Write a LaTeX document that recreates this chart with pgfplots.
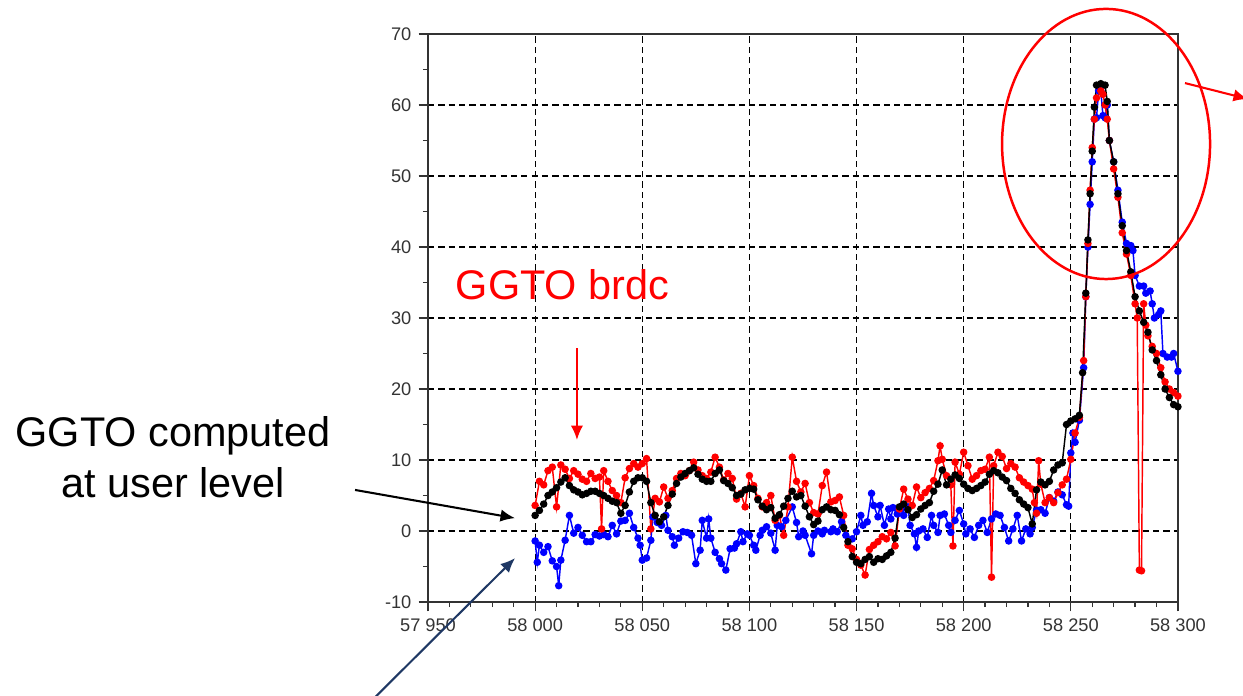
\documentclass[border=0pt]{standalone}
\usepackage{pgfplots}
\pgfplotsset{compat=1.18}
\usetikzlibrary{arrows.meta}
\usepackage{fontspec}
\setmainfont{Liberation Sans}
\definecolor{navy}{RGB}{31,56,100}
\definecolor{myred}{RGB}{255,0,0}
\definecolor{myblue}{RGB}{0,0,255}

\begin{document}
\begin{tikzpicture}
\begin{axis}[
  scale only axis, width=362pt, height=274.2pt,
  xmin=57950, xmax=58300, ymin=-10, ymax=70,
  xtick={57950,58000,...,58300}, minor x tick num=4,
  ytick={-10,0,...,70}, minor y tick num=1,
  xtick pos=left, ytick pos=left,
  tick align=outside, major tick length=4.5pt, minor tick length=2.5pt,
  tick style={black!80, line width=0.6pt},
  axis line style={black!80, line width=0.8pt},
  grid=major,
  major grid style={black, line width=0.6pt, dash pattern=on 3pt off 2pt},
  scaled x ticks=false,
  /pgf/number format/assume math mode=true,
  xticklabel style={font=\fontsize{8.8}{10}\selectfont, text=black!80,
    /pgf/number format/fixed, /pgf/number format/1000 sep={\ }},
  yticklabel style={font=\fontsize{8.8}{10}\selectfont, text=black!80},
  every axis plot/.append style={line width=0.7pt, mark=*, mark size=1.45pt},
]
% blue series
\addplot[color=myblue, mark options={fill=myblue}] table {
58000 -1.4
58001 -4.4
58002 -2.0
58004 -3.0
58006 -2.2
58008 -4.2
58010 -5.0
58011 -7.7
58012 -4.1
58014 -1.3
58016 2.2
58018 -0.3
58020 0.5
58022 -0.6
58024 -1.5
58026 -1.5
58028 -0.5
58030 -0.7
58032 -0.5
58034 -0.8
58036 0.8
58038 -0.4
58040 1.4
58042 1.5
58044 2.5
58046 0.5
58048 -1.0
58049 -2.0
58050 -4.1
58052 -3.8
58054 -1.3
58055 2.0
58057 1.2
58059 0.8
58061 2.2
58062 0.1
58064 -0.8
58065 -2.0
58067 -1.0
58069 -0.1
58071 -0.2
58073 -0.6
58075 -4.6
58077 -2.7
58078 1.5
58080 -1.0
58081 1.7
58082 -1.0
58084 -3.0
58086 -3.9
58087 -4.6
58089 -5.5
58091 -2.5
58093 -2.4
58094 -1.8
58096 -0.1
58097 -1.5
58099 -0.4
58100 -0.6
58102 -2.0
58103 -2.7
58105 -0.6
58106 0.1
58108 0.6
58110 -0.3
58112 -2.7
58113 0.8
58115 0.6
58117 1.5
58120 3.4
58122 1.2
58123 -0.8
58125 0.0
58126 -0.6
58129 -3.2
58130 -0.6
58132 0.0
58134 -0.4
58135 0.1
58138 -0.1
58139 0.3
58141 -0.1
58143 1.3
58145 -0.6
58148 -1.1
58150 -0.1
58152 2.2
58153 0.8
58155 1.3
58157 5.3
58158 3.6
58160 2.0
58161 3.6
58163 0.8
58165 3.1
58166 1.7
58167 3.3
58169 2.4
58171 3.1
58172 2.2
58174 3.4
58175 0.8
58177 -0.4
58178 -2.3
58179 0.0
58181 0.3
58183 -0.9
58185 2.2
58186 0.8
58188 -0.2
58189 2.2
58191 2.4
58193 0.8
58194 -0.2
58196 1.5
58198 2.9
58200 1.0
58201 -0.4
58203 0.3
58205 -0.9
58207 0.8
58209 1.5
58211 -0.2
58213 1.7
58215 2.4
58217 2.2
58219 0.5
58221 -1.4
58223 0.3
58225 2.2
58227 -1.4
58229 0.3
58231 -0.4
58232 0.5
58234 2.9
58236 3.0
58238 2.5
58240 4.7
58242 4.2
58244 5.5
58246 5.1
58248 3.7
58249 3.5
58250 11.0
58251 13.8
58252 12.5
58254 15.6
58256 23.0
58257 33.0
58258 40.0
58259 46.0
58260 52.0
58261 58.0
58262 58.2
58263 62.0
58264 62.0
58265 58.5
58266 58.2
58267 60.0
58268 55.0
58270 52.0
58272 48.0
58274 43.5
58276 40.5
58278 40.2
58279 39.5
58280 36.0
58282 34.5
58284 34.5
58285 33.5
58287 33.8
58288 32.0
58289 30.0
58291 30.5
58292 31.0
58293 25.0
58295 24.5
58297 24.5
58298 25.0
58300 22.5
};
% red series
\addplot[color=myred, mark options={fill=myred}] table {
58000 3.6
58002 7.0
58004 6.5
58006 8.5
58008 9.0
58010 3.4
58012 9.3
58014 8.7
58016 7.4
58018 8.5
58020 8.0
58022 7.3
58024 7.0
58026 8.1
58028 7.4
58030 7.6
58031 0.3
58032 8.5
58034 7.0
58036 5.7
58038 5.0
58040 4.0
58042 7.5
58044 8.8
58046 9.5
58048 9.0
58050 9.5
58052 10.2
58054 0.3
58056 4.6
58058 4.1
58060 6.2
58062 4.6
58064 5.7
58066 7.4
58068 8.1
58070 7.8
58072 8.5
58074 9.7
58076 8.6
58078 7.8
58080 7.4
58082 8.3
58084 10.4
58086 9.0
58088 7.2
58090 8.1
58092 7.4
58094 4.5
58096 5.3
58098 3.4
58100 7.8
58102 6.4
58104 4.6
58106 3.4
58108 4.0
58110 5.0
58112 1.5
58114 2.2
58116 -0.6
58118 3.4
58120 10.4
58122 7.0
58124 5.5
58126 6.7
58128 4.0
58130 2.6
58132 2.4
58134 6.4
58136 8.3
58138 4.1
58140 4.3
58142 4.8
58144 2.2
58146 -2.0
58148 -2.5
58150 -4.0
58152 -4.8
58154 -6.2
58156 -2.6
58158 -2.0
58160 -1.5
58162 -0.8
58164 -1.1
58166 -0.2
58168 -2.1
58170 3.1
58172 5.9
58174 4.5
58176 3.6
58178 6.2
58180 4.7
58182 5.4
58184 6.0
58186 7.1
58188 9.9
58189 12.0
58190 10.1
58192 7.8
58194 6.5
58195 -2.1
58196 9.7
58198 8.0
58200 11.1
58202 9.2
58204 7.3
58206 7.8
58208 8.5
58210 8.7
58212 10.4
58213 -6.5
58214 9.2
58216 11.1
58218 10.5
58220 8.8
58222 9.5
58224 9.0
58226 7.5
58228 6.9
58230 6.4
58232 5.9
58233 4.0
58234 2.5
58235 9.9
58236 6.6
58238 4.0
58240 4.7
58242 4.0
58244 5.4
58246 6.5
58248 7.3
58250 10.1
58252 13.8
58254 16.0
58256 24.0
58257 33.0
58258 40.5
58259 48.0
58260 54.0
58261 58.0
58262 61.0
58264 62.0
58265 61.5
58266 60.0
58267 58.0
58268 55.0
58270 51.0
58272 47.0
58274 42.0
58276 39.0
58278 36.0
58280 32.0
58281 30.0
58282 -5.5
58283 -5.6
58284 32.0
58285 29.0
58286 27.5
58288 26.0
58290 25.0
58292 23.0
58294 21.0
58296 20.0
58298 19.5
58300 19.0
};
% black series
\addplot[color=black, mark options={fill=black}] table {
58000 2.2
58002 2.9
58004 3.8
58006 5.0
58008 5.5
58010 6.1
58012 6.9
58014 7.5
58016 6.4
58018 5.8
58020 5.5
58022 5.1
58024 5.3
58026 5.6
58028 5.6
58030 5.3
58032 5.0
58034 4.6
58036 4.2
58038 4.0
58040 2.5
58042 3.6
58044 5.5
58046 7.0
58048 7.5
58050 7.5
58052 7.0
58054 4.0
58056 2.2
58058 1.3
58060 2.0
58062 3.6
58064 5.2
58066 6.7
58068 7.6
58070 8.1
58072 8.5
58074 8.9
58076 8.0
58078 7.3
58080 7.0
58082 7.0
58084 8.1
58086 8.6
58088 7.1
58090 6.7
58092 6.1
58094 5.0
58096 5.2
58098 5.8
58100 6.0
58102 5.9
58104 4.4
58106 3.5
58108 3.0
58110 3.3
58112 1.8
58114 2.3
58116 3.5
58118 4.6
58120 5.6
58122 4.8
58124 5.0
58126 3.5
58128 2.0
58130 0.9
58132 1.4
58134 3.0
58136 3.4
58138 3.0
58140 2.9
58142 2.3
58144 0.5
58146 -1.5
58148 -3.6
58150 -4.4
58152 -4.6
58154 -4.0
58156 -3.6
58158 -4.4
58160 -3.9
58162 -4.0
58164 -3.5
58166 -3.0
58168 -1.0
58170 3.4
58172 3.8
58174 3.0
58176 1.9
58178 2.3
58180 3.1
58182 3.6
58184 4.0
58186 5.6
58188 6.6
58190 8.6
58192 6.5
58194 7.3
58196 7.9
58198 7.4
58200 6.6
58202 6.0
58204 5.7
58206 6.0
58208 6.4
58210 6.9
58212 8.0
58214 8.5
58216 8.2
58218 7.6
58220 7.1
58222 6.0
58224 5.3
58226 4.4
58228 3.8
58230 3.3
58232 1.0
58234 5.8
58236 6.9
58238 6.5
58240 7.0
58242 8.6
58244 9.3
58246 9.6
58248 15.0
58250 15.5
58252 15.8
58254 16.3
58255.5 22.3
58257 33.5
58258 41.0
58259 47.5
58260 53.5
58261 59.7
58262 62.8
58264 63.0
58266 62.8
58267 60.5
58268 55.0
58270 52.0
58272 47.5
58274 43.0
58276 39.5
58278 36.5
58280 33.0
58282 31.0
58284 29.4
58286 28.0
58288 25.5
58290 24.0
58292 22.0
58294 20.0
58296 18.8
58298 17.8
58300 17.5
};
\end{axis}
% annotations
\node[text=myred, font=\fontsize{20}{24}\selectfont] at (64.9pt,153pt) {GGTO brdc};
\draw[myred, line width=1pt, -{Latex[length=7pt,width=6pt]}] (71.9pt,122.6pt) -- (71.9pt,78.2pt);
\node[align=center, font=\fontsize{20}{24.6}\selectfont] at (-123.1pt,70pt) {GGTO computed\\at user level};
\draw[black, line width=1pt, -{Latex[length=7pt,width=6pt]}] (-35.2pt,54.1pt) -- (42.0pt,40.5pt);
\draw[navy, line width=1pt, -{Latex[length=7pt,width=6pt]}] (-25.6pt,-46pt) -- (42.0pt,21.2pt);
\draw[myred, line width=1.2pt] (327.3pt,221.1pt) ellipse [x radius=50.2pt, y radius=65.2pt];
\draw[myred, line width=1pt, -{Latex[length=7pt,width=6pt]}] (365.4pt,250.5pt) -- (395.8pt,242.8pt);
\pgfresetboundingbox
\path[use as bounding box] (-206.6pt,-44.9pt) rectangle (393.4pt,290.6pt);
\end{tikzpicture}
\end{document}
